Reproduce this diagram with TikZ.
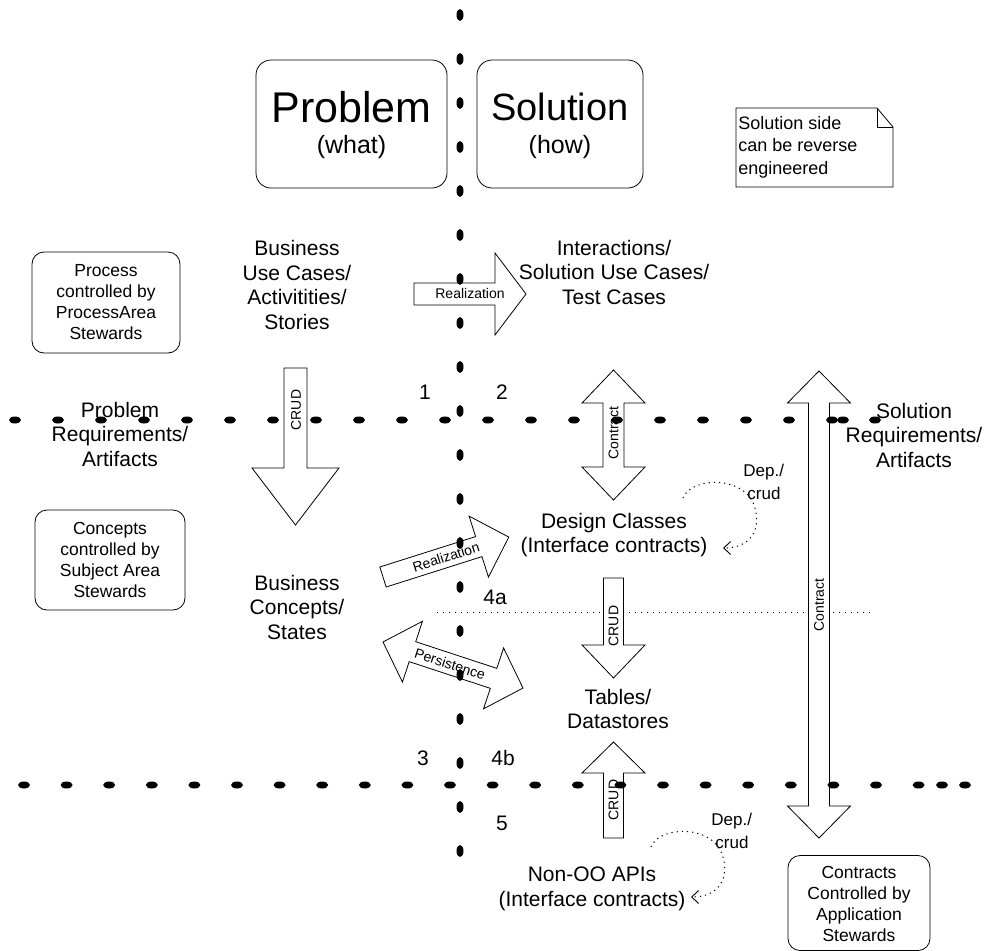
\documentclass[tikz,border=0pt]{standalone}
\usepackage{fontspec}
\setmainfont{Liberation Sans}
\usetikzlibrary{arrows.meta}
\newcommand\sarrow[6]{%
  \begin{scope}[shift={#1},rotate=#2]
  \draw[blk] (0,-#4) -- ({#3-#6},-#4) -- ({#3-#6},-#5) -- (#3,0) -- ({#3-#6},#5) -- ({#3-#6},#4) -- (0,#4) -- cycle;
  \end{scope}}
\newcommand\darrow[6]{%
  \begin{scope}[shift={#1},rotate=#2]
  \draw[blk] (0,0) -- (#6,-#5) -- (#6,-#4) -- ({#3-#6},-#4) -- ({#3-#6},-#5) -- (#3,0) -- ({#3-#6},#5) -- ({#3-#6},#4) -- (#6,#4) -- (#6,#5) -- cycle;
  \end{scope}}
\begin{document}
\begin{tikzpicture}[x=1pt,y=-1pt,line width=0.8pt,
  txt/.style={font=\fontsize{21}{24.5}\selectfont, align=center, inner sep=0pt},
  boxtxt/.style={font=\fontsize{17.5}{21}\selectfont, align=center, inner sep=0pt},
  rbox/.style={draw, rounded corners=12pt, inner sep=0pt},
  lbl/.style={font=\fontsize{14}{16}\selectfont, inner sep=0pt},
  num/.style={font=\fontsize{21}{24}\selectfont, inner sep=0pt},
  small/.style={font=\fontsize{17}{21}\selectfont, inner sep=0pt, align=left},
  blk/.style={draw, fill=white, line width=0.8pt, line join=miter},
  thindot/.style={line width=1pt, dash pattern=on 1.2pt off 4.8pt},
  loopdot/.style={line width=1pt, dash pattern=on 1.2pt off 4pt, -{Straight Barb[length=7pt,width=13pt,line width=0.9pt]}},
]
\useasboundingbox (0,0) rectangle (989,951);

% thin dotted separator
\coordinate (ds1) at (437,612);
\coordinate (ds2) at (870,612);
\draw[thindot] (ds1) -- (ds2);

% header boxes
\node[rbox, rounded corners=15pt, minimum width=191pt, minimum height=128pt] (probbox) at (351.5,124) {};
\node[font=\fontsize{43}{46}\selectfont, inner sep=0pt, anchor=base] (probt) at (351.5,122) {Problem};
\node[font=\fontsize{25}{28}\selectfont, inner sep=0pt, anchor=base] (what) at (351.5,153) {(what)};
\node[rbox, rounded corners=15pt, minimum width=166pt, minimum height=128pt] (solbox) at (560,124) {};
\node[font=\fontsize{38}{42}\selectfont, inner sep=0pt, anchor=base] (solt) at (560,120) {Solution};
\node[font=\fontsize{25}{28}\selectfont, inner sep=0pt, anchor=base] (how) at (560,153) {(how)};

% note
\draw (736,108) -- (877,108) -- (893,127) -- (893,187) -- (736,187) -- cycle;
\draw (877,108) -- (877,127) -- (893,127);
\node[small, anchor=north west, font=\fontsize{18}{22.5}\selectfont] (note) at (738,116) {Solution side\\can be reverse\\engineered};

% steward boxes
\node[rbox, minimum width=148pt, minimum height=101pt] (procbox) at (106,302.5) {};
\node[boxtxt] (proct) at (106,302.5) {Process\\controlled by\\ProcessArea\\Stewards};
\node[rbox, minimum width=150pt, minimum height=100pt] (concbox) at (110,560) {};
\node[boxtxt] (conct) at (110,560) {Concepts\\controlled by\\Subject Area\\Stewards};
\node[rbox, minimum width=142pt, minimum height=95pt] (contbox) at (859,903) {};
\node[boxtxt] (contt) at (859,904) {Contracts\\Controlled by\\Application\\Stewards};

% block arrows
\coordinate (r1) at (414,294);
\sarrow{(r1)}{0}{112}{11}{41}{31}
\node[lbl] (r1l) at (470,293) {Realization};

\coordinate (c1) at (295.5,368);
\sarrow{(c1)}{-90}{157}{11.5}{43.5}{57}
\node[lbl, rotate=90] (c1l) at (296,410) {CRUD};

\coordinate (k1) at (613.5,370);
\darrow{(k1)}{-90}{130}{10.5}{31.5}{33}
\node[lbl, rotate=90] (k1l) at (613.5,433) {Contract};

\coordinate (r2) at (383,577);
\sarrow{(r2)}{17.6}{132}{10.5}{32}{31.5}
\node[lbl, rotate=17.6] (r2l) at (446,557) {Realization};

\coordinate (p1) at (383,642);
\darrow{(p1)}{-18.2}{147.4}{10.5}{32}{31}
\node[lbl, rotate=-18.2] (p1l) at (450,664) {Persistence};

\coordinate (c2) at (613.5,578);
\sarrow{(c2)}{-90}{100}{10}{31.5}{33}
\node[lbl, rotate=90] (c2l) at (613.5,626) {CRUD};

\coordinate (c3) at (613.5,838);
\sarrow{(c3)}{90}{96}{10}{31.5}{31}
\node[lbl, rotate=90] (c3l) at (613.5,800) {CRUD};

\coordinate (k2) at (819,371);
\darrow{(k2)}{-90}{467}{10.5}{31.5}{32}
\node[lbl, rotate=90] (k2l) at (819,605) {Contract};

% main texts
\node[txt] (buc) at (297,285) {Business\\Use Cases/\\Activitities/\\Stories};
\node[txt] (inter) at (614,272) {Interactions/\\Solution Use Cases/\\Test Cases};
\node[txt] (preq) at (120,434) {Problem\\Requirements/\\Artifacts};
\node[txt] (sreq) at (914,435) {Solution\\Requirements/\\Artifacts};
\node[txt] (dc) at (614,535) {Design Classes\\(Interface contracts)};
\node[txt] (bc) at (297,607) {Business\\Concepts/\\States};
\node[txt] (tab) at (618,709) {Tables/\\Datastores};
\node[txt] (nonoo) at (592,889) {Non-OO APIs\\(Interface contracts)};

\node[num] (n1) at (425,392) {1};
\node[num] (n2) at (502,392) {2};
\node[num] (n3) at (423,758) {3};
\node[num] (n4a) at (495,597) {4a};
\node[num] (n4b) at (503,758) {4b};
\node[num] (n5) at (502,823) {5};

% dependency loops
\node[small, anchor=west] (dep1) at (743,472) {Dep./};
\node[small, anchor=west] (crud1) at (747,493) {crud};
\coordinate (l1s) at (683,498);
\coordinate (l1e) at (723,548);
\draw[loopdot] (l1s) .. controls (690,478) and (742,474) .. (754,505) .. controls (762,528) and (752,548) .. (l1e);

\node[small, anchor=west] (dep2) at (711,821) {Dep./};
\node[small, anchor=west] (crud2) at (715,842) {crud};
\coordinate (l2s) at (651,847);
\coordinate (l2e) at (691,897);
\draw[loopdot] (l2s) .. controls (658,827) and (710,823) .. (722,854) .. controls (730,877) and (720,897) .. (l2e);

% heavy dotted lines
\foreach \k in {0,...,19} \fill (460,{15+44*\k}) ellipse [x radius=3.5, y radius=6];
\foreach \k in {0,...,20} \fill ({15+43*\k},420) ellipse [x radius=6, y radius=3.5];
\fill (843,420) ellipse [x radius=6, y radius=3.5];
\foreach \k in {0,...,21} \fill ({24+42.6*\k},785) ellipse [x radius=6, y radius=3.5];
\fill (942,785) ellipse [x radius=6, y radius=3.5];
\fill (965,785) ellipse [x radius=6, y radius=3.5];
\end{tikzpicture}
\end{document}
